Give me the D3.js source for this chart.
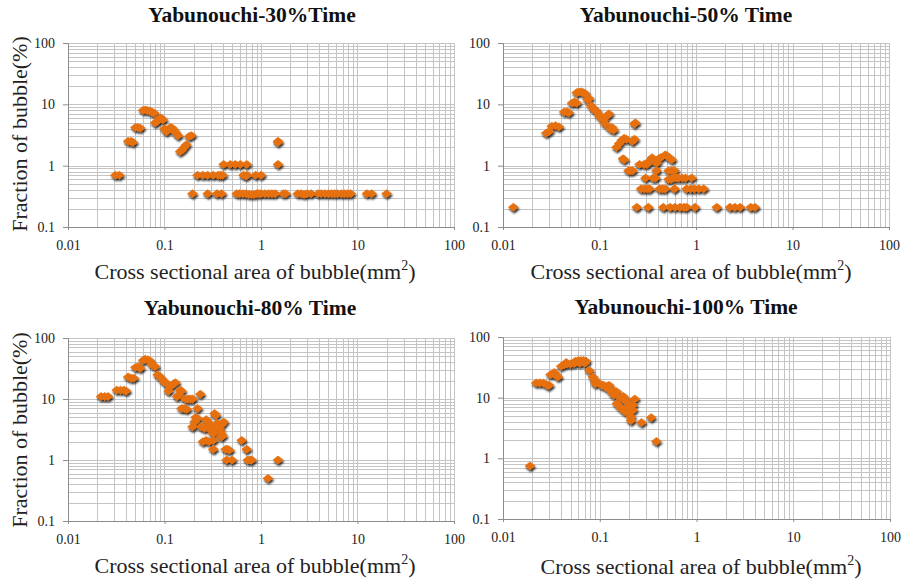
<!DOCTYPE html>
<html>
<head>
<meta charset="utf-8">
<script src="https://cdn.jsdelivr.net/npm/d3@7"></script>
<style>
  html, body { margin: 0; padding: 0; background: #fff; }
  svg { display: block; }
</style>
</head>
<body>
<svg id="chart" width="907" height="585"></svg>
<script>
// ---- data (area mm^2, fraction %) ----
const titles = ["Yabunouchi-30%Time", "Yabunouchi-50% Time", "Yabunouchi-80% Time", "Yabunouchi-100% Time"];
const xTickValues = [0.01, 0.1, 1, 10, 100];
const xTickLabels = ["0.01", "0.1", "1", "10", "100"];
const yTickValues = [0.1, 1, 10, 100];
const yTickLabels = ["0.1", "1", "10", "100"];
const xTitle = "Cross sectional area of bubble(mm";
const yTitle = "Fraction of bubble(%)";

const data30 = [
  [0.031,0.7],[0.034,0.7],
  [0.042,2.5],[0.045,2.5],[0.047,2.4],
  [0.05,4.2],[0.053,4.2],[0.056,4.1],
  [0.06,8],[0.063,8.1],[0.066,8],[0.07,7.8],[0.074,7.5],[0.078,7.2],
  [0.08,5],[0.084,5.3],[0.088,5.8],[0.092,6.0],[0.096,5.6],
  [0.1,4.0],[0.105,3.6],[0.11,3.9],[0.115,4.2],[0.12,4.1],[0.125,3.8],[0.132,3.4],[0.138,3.1],
  [0.145,1.7],[0.152,1.8],[0.16,2.0],[0.168,2.2],
  [0.18,3.0],[0.19,3.1],
  [0.195,0.35],[0.22,0.7],[0.25,0.7],[0.28,0.7],[0.28,0.35],[0.32,0.7],[0.35,0.35],[0.36,0.7],
  [0.38,0.7],[0.39,0.35],[0.4,0.7],
  [0.41,1.05],[0.48,1.05],[0.54,1.05],[0.61,1.05],[0.71,1.05],
  [0.66,0.7],[0.7,0.68],[0.72,0.7],[0.88,0.7],[1.0,0.7],
  [0.56,0.35],[0.6,0.35],[0.65,0.35],[0.7,0.35],[0.75,0.34],[0.8,0.34],[0.85,0.34],[0.9,0.35],
  [0.95,0.35],[1.0,0.35],[1.1,0.35],[1.2,0.35],[1.3,0.35],[1.4,0.35],[1.7,0.35],[1.8,0.35],
  [2.4,0.35],[2.6,0.35],[2.8,0.34],[3.0,0.35],[3.3,0.35],[3.9,0.35],[4.2,0.35],[4.6,0.35],
  [5.0,0.35],[5.4,0.35],[5.8,0.35],[6.2,0.35],[6.8,0.35],[7.3,0.35],[7.9,0.35],[8.5,0.35],
  [12.5,0.35],[14,0.35],[20,0.35],
  [1.5,2.4],[1.5,2.5],[1.5,1.05]
];

const data50 = [
  [0.0128,0.21],
  [0.028,3.4],[0.03,3.6],
  [0.032,4.4],[0.035,4.5],[0.038,4.3],
  [0.043,7.5],[0.046,7.6],[0.048,7.3],
  [0.052,10.5],[0.055,11],[0.058,10.5],
  [0.058,15.5],[0.061,16],[0.065,16],[0.068,15.5],[0.071,15],
  [0.075,12],[0.078,12.5],
  [0.082,9.5],[0.087,8.5],[0.09,8],[0.095,7.5],[0.1,6.5],[0.105,6],[0.11,5.5],[0.115,4.8],
  [0.12,6.5],[0.125,7],
  [0.13,4],[0.135,4.2],[0.14,3.8],
  [0.15,2],[0.16,2.3],[0.17,2.6],[0.18,2.8],[0.19,2.7],
  [0.175,1.3],[0.18,1.25],
  [0.2,0.83],[0.21,0.83],[0.22,0.83],
  [0.22,2.5],[0.23,2.7],
  [0.23,4.8],[0.235,5],
  [0.26,1.05],[0.29,1.05],[0.31,1.05],
  [0.27,0.42],[0.29,0.42],[0.31,0.42],[0.33,0.42],
  [0.3,0.63],
  [0.33,1.2],[0.35,1.35],[0.37,1.2],[0.39,1.1],[0.41,1.3],[0.43,1.35],
  [0.36,0.63],[0.38,0.63],[0.39,0.83],
  [0.42,0.42],[0.45,0.42],[0.48,0.42],
  [0.243,0.21],[0.32,0.21],[0.458,0.21],[0.538,0.21],[0.606,0.21],[0.683,0.21],[0.751,0.21],
  [0.8,0.21],[0.977,0.21],[1.64,0.21],[2.25,0.21],[2.53,0.21],[2.86,0.21],[3.69,0.21],[4.08,0.21],
  [0.48,1.5],[0.5,1.45],[0.53,1.35],[0.56,1.25],
  [0.52,0.83],[0.56,0.83],[0.6,0.83],
  [0.52,0.6],[0.55,0.6],[0.58,0.63],[0.62,0.63],[0.66,0.63],[0.72,0.63],[0.78,0.63],[0.9,0.63],
  [0.6,0.42],[0.8,0.42],[0.88,0.42],[0.96,0.42],[1.07,0.42],[1.2,0.42]
];

const data80 = [
  [0.022,11],[0.024,11],[0.026,11],
  [0.032,14],[0.035,14],[0.038,14],[0.04,13.5],
  [0.042,23],[0.045,22],[0.048,22],
  [0.05,33],[0.053,34],[0.056,32],
  [0.06,43],[0.063,45],[0.067,44],[0.071,42],
  [0.075,36],[0.08,34],
  [0.085,25],[0.09,23],[0.095,21],[0.1,19],[0.105,18],[0.11,17],[0.115,16],
  [0.11,13.5],[0.125,18],[0.13,18.5],
  [0.135,11],[0.14,11.5],[0.145,14],[0.15,13.5],
  [0.15,7],[0.16,7],[0.17,6.8],
  [0.165,10],[0.175,10],[0.185,10],[0.195,10],
  [0.195,3.5],[0.22,7],[0.235,12],
  [0.21,5],[0.22,4.8],[0.205,4.2],
  [0.24,3.5],[0.26,3.3],
  [0.25,2],[0.27,2.1],[0.29,2],
  [0.27,4.6],[0.28,4.2],[0.3,3.6],[0.31,3.0],[0.33,3.5],[0.35,4],
  [0.33,5.8],[0.34,5.4],
  [0.32,2.7],[0.32,2.1],[0.32,1.5],
  [0.37,3.3],[0.39,3.8],[0.41,4.2],[0.4,2.5],[0.38,2.9],[0.39,2.4],
  [0.43,1.5],[0.45,1.5],[0.47,1.45],
  [0.44,1.0],[0.5,1.0],
  [0.63,2.1],[0.71,1.5],
  [0.73,1.0],[0.77,1.0],[0.8,1.0],
  [1.18,0.5],[1.5,1.0]
];

const data100 = [
  [0.019,0.75],
  [0.022,17.5],[0.024,17.5],[0.026,17.5],[0.028,16.5],[0.029,16],[0.03,16],
  [0.031,24],[0.033,25],[0.034,26],[0.035,24],[0.037,22],
  [0.04,33],[0.043,35],[0.045,38],[0.046,36],[0.05,36],[0.054,37],
  [0.055,37],[0.056,40],[0.06,41],[0.062,37],[0.064,41],[0.068,41],[0.07,37],[0.072,40],
  [0.078,28],
  [0.085,22],[0.088,20],[0.09,17],
  [0.1,17],[0.105,16],[0.11,16],[0.115,15],[0.12,15.5],[0.125,16],
  [0.13,13],[0.135,12],[0.14,11],[0.14,13],[0.15,12.5],
  [0.15,8],[0.16,7.2],
  [0.165,10],[0.175,10.5],[0.185,9.5],[0.19,8.5],
  [0.17,6.5],[0.18,6],[0.19,5.8],[0.2,6.2],[0.21,6.5],[0.22,6.2],
  [0.2,7],[0.22,7.5],
  [0.21,4.8],[0.21,4.2],
  [0.23,9.5],[0.27,3.9],[0.34,4.7],[0.385,1.9]
];

const datasets = [data30, data50, data80, data100];

// ---- layout ----
const SERIF = '"Liberation Serif", "Times New Roman", Tinos, serif';
const boxes = [
  {x0: 68,  x1: 454, y0: 43,  y1: 227, tx: 252, ty: 22,  xtx: 255, xty: 279, ytitle: true,  ytx: 27, yty: 134},
  {x0: 503, x1: 889, y0: 43,  y1: 227, tx: 686, ty: 22,  xtx: 691, xty: 279, ytitle: false},
  {x0: 68,  x1: 454, y0: 338, y1: 521, tx: 250, ty: 315, xtx: 255, xty: 573, ytitle: true,  ytx: 27, yty: 430},
  {x0: 503, x1: 890, y0: 337, y1: 519, tx: 686, ty: 314, xtx: 701, xty: 574, ytitle: false}
];

const svg = d3.select("#chart");
const defs = svg.append("defs");
const f = defs.append("filter").attr("id", "shadow").attr("x", "-20%").attr("y", "-20%").attr("width", "140%").attr("height", "140%");
f.append("feGaussianBlur").attr("in", "SourceAlpha").attr("stdDeviation", 1.1).attr("result", "b");
f.append("feOffset").attr("in", "b").attr("dx", 1).attr("dy", 2.2).attr("result", "o");
f.append("feComponentTransfer").attr("in", "o").attr("result", "s")
  .append("feFuncA").attr("type", "linear").attr("slope", 0.85);
const m = f.append("feMerge");
m.append("feMergeNode").attr("in", "s");
m.append("feMergeNode").attr("in", "SourceGraphic");

const minorVals = [];
for (let e = -2; e < 2; e++) for (let k = 1; k <= 9; k++) minorVals.push(k * Math.pow(10, e));
minorVals.push(100);
const minorY = [];
for (let e = -1; e < 2; e++) for (let k = 1; k <= 9; k++) minorY.push(k * Math.pow(10, e));
minorY.push(100);

const hw = 4.9, hh = 3.9;
const diamond = `M0,${-hh}L${hw},0L0,${hh}L${-hw},0Z`;

boxes.forEach((b, i) => {
  const x = d3.scaleLog().domain([0.01, 100]).range([b.x0, b.x1]);
  const y = d3.scaleLog().domain([0.1, 100]).range([b.y1, b.y0]);
  const g = svg.append("g");

  // grid
  g.append("g").selectAll("line").data(minorVals).join("line")
    .attr("x1", d => Math.round(x(d)) + 0.5).attr("x2", d => Math.round(x(d)) + 0.5)
    .attr("y1", b.y0).attr("y2", b.y1)
    .attr("stroke", "#c4c4c4").attr("stroke-width", 1);
  g.append("g").selectAll("line").data(minorY).join("line")
    .attr("y1", d => Math.round(y(d)) + 0.5).attr("y2", d => Math.round(y(d)) + 0.5)
    .attr("x1", b.x0).attr("x2", b.x1)
    .attr("stroke", "#c4c4c4").attr("stroke-width", 1);

  // axes
  const xa = d3.axisBottom(x).tickValues(xTickValues).tickFormat((d, j) => xTickLabels[j]).tickSize(3).tickPadding(10);
  const ya = d3.axisLeft(y).tickValues(yTickValues).tickFormat((d, j) => yTickLabels[j]).tickSize(5).tickPadding(8);
  const gx = g.append("g").attr("transform", `translate(0,${b.y1})`).call(xa);
  const gy = g.append("g").attr("transform", `translate(${b.x0},0)`).call(ya);
  [gx, gy].forEach(ax => {
    ax.attr("font-family", null).attr("font-size", null);
    ax.select(".domain").attr("stroke", "#8c8c8c");
    ax.selectAll(".tick line").attr("stroke", "#8c8c8c");
    ax.selectAll(".tick text").attr("fill", "#222")
      .style("font-family", SERIF).style("font-size", "14px");
  });

  // marks
  g.append("g").attr("filter", "url(#shadow)").selectAll("path").data(datasets[i]).join("path")
    .attr("d", diamond)
    .attr("transform", d => `translate(${x(d[0])},${y(d[1])})`)
    .attr("fill", "#e6700e").attr("stroke", "#e6700e").attr("stroke-width", 0.8).attr("stroke-linejoin", "round");

  // titles
  svg.append("text").attr("x", b.tx).attr("y", b.ty).attr("text-anchor", "middle")
    .style("font-family", SERIF).style("font-size", "21.5px").style("font-weight", "bold")
    .attr("fill", "#111").text(titles[i]);
  const xt = svg.append("text").attr("x", b.xtx).attr("y", b.xty).attr("text-anchor", "middle")
    .style("font-family", SERIF).style("font-size", "22px").attr("fill", "#222");
  xt.append("tspan").text(xTitle);
  xt.append("tspan").style("font-size", "14px").attr("dy", -9).text("2");
  xt.append("tspan").attr("dy", 9).text(")");
  if (b.ytitle) {
    svg.append("text").attr("transform", `translate(${b.ytx},${b.yty}) rotate(-90)`)
      .attr("text-anchor", "middle").style("font-family", SERIF).style("font-size", "22px")
      .attr("fill", "#222").text(yTitle);
  }
});
</script>
</body>
</html>
